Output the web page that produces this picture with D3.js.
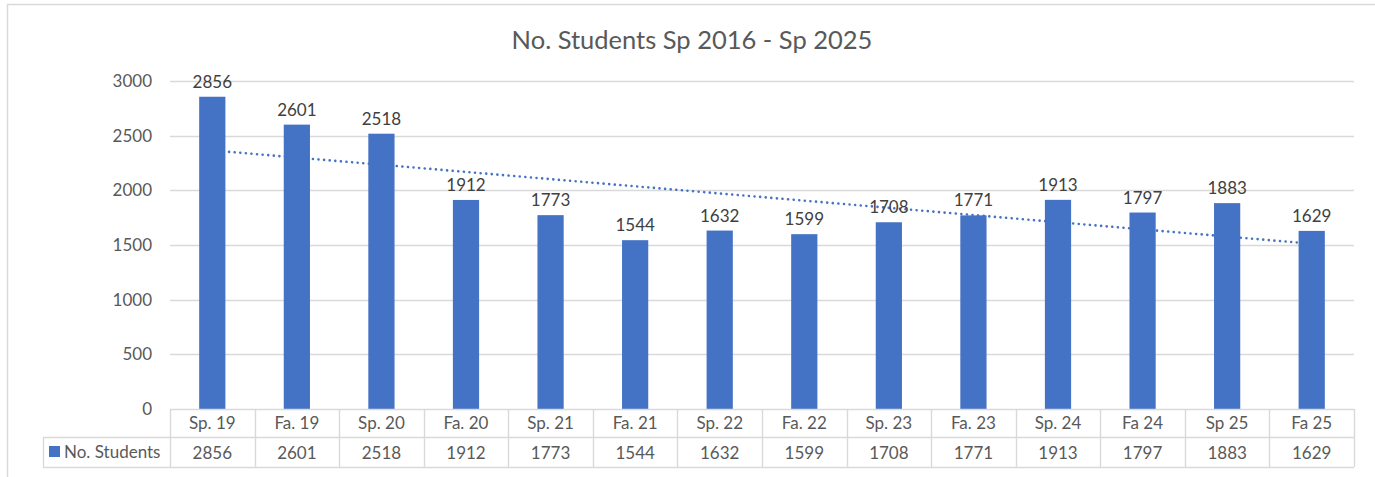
<!DOCTYPE html>
<html>
<head>
<meta charset="utf-8">
<script src="https://cdn.jsdelivr.net/npm/d3@7/dist/d3.min.js"></script>
<style>
  html, body { margin: 0; padding: 0; background: #fff; }
  svg { display: block; font-family: Lato, "Open Sans", sans-serif; }
</style>
</head>
<body>
<svg id="chart" width="1375" height="477"></svg>
<script>
// Enrolment per semester
const categories = ["Sp. 19", "Fa. 19", "Sp. 20", "Fa. 20", "Sp. 21", "Fa. 21", "Sp. 22",
                    "Fa. 22", "Sp. 23", "Fa. 23", "Sp. 24", "Fa 24", "Sp 25", "Fa 25"];
const students = [2856, 2601, 2518, 1912, 1773, 1544, 1632, 1599, 1708, 1771, 1913, 1797, 1883, 1629];
const yTicks = [0, 500, 1000, 1500, 2000, 2500, 3000];
const seriesName = "No. Students";
const title = "No. Students Sp 2016 - Sp 2025";

const W = 1375, H = 477;
const plot = { left: 170, right: 1354, top: 81, bottom: 409 };
const table = { left: 43, rowMid: 437, bottom: 467 };
const barColor = "#4472C4";
const gridColor = "#d9d9d9";
const textColor = "#595959";
const fs = 17;

const svg = d3.select("#chart");

// chart frame
svg.append("path")
  .attr("d", `M7.5,${H} V4.5 H${W}`)
  .attr("fill", "none").attr("stroke", gridColor).attr("stroke-width", 1.5);

const x = d3.scaleBand().domain(categories).range([plot.left, plot.right]).paddingInner(0.69).paddingOuter(0.345);
const y = d3.scaleLinear().domain([0, 3000]).range([plot.bottom, plot.top]);

// title
svg.append("text")
  .attr("x", 692).attr("y", 49)
  .attr("text-anchor", "middle").attr("fill", textColor)
  .attr("font-size", 25.5).text(title);

// gridlines
svg.append("g").selectAll("line").data(yTicks.filter(t => t > 0)).join("line")
  .attr("x1", plot.left).attr("x2", plot.right)
  .attr("y1", d => Math.round(y(d)) + 0.5).attr("y2", d => Math.round(y(d)) + 0.5)
  .attr("stroke", gridColor).attr("stroke-width", 1.3);

// y axis labels
const yAxis = d3.axisLeft(y).tickValues(yTicks).tickFormat(d3.format("d")).tickSize(0).tickPadding(18);
const yg = svg.append("g").attr("transform", `translate(${plot.left},0)`).call(yAxis);
yg.select(".domain").remove();
yg.selectAll("text").attr("font-size", fs).attr("fill", textColor).attr("font-family", "Lato, sans-serif");

// bars
svg.append("g").selectAll("rect").data(students).join("rect")
  .attr("x", (d, i) => x(categories[i]))
  .attr("width", x.bandwidth())
  .attr("y", d => y(d))
  .attr("height", d => y(0) - y(d))
  .attr("fill", barColor);

// linear trendline (least squares over category index)
const n = students.length;
const xs = d3.range(1, n + 1);
const mx = d3.mean(xs), my = d3.mean(students);
const slope = d3.sum(xs, (v, i) => (v - mx) * (students[i] - my)) / d3.sum(xs, v => (v - mx) ** 2);
const icpt = my - slope * mx;
const trend = [1, n].map(k => [x(categories[k - 1]) + x.bandwidth() / 2, y(icpt + slope * k)]);
svg.append("path")
  .attr("d", d3.line()(trend))
  .attr("fill", "none").attr("stroke", barColor).attr("stroke-width", 2.6)
  .attr("stroke-linecap", "round").attr("stroke-dasharray", "0.01 5.6");

// data labels
svg.append("g").selectAll("text").data(students).join("text")
  .attr("x", (d, i) => x(categories[i]) + x.bandwidth() / 2)
  .attr("y", d => y(d) - 9)
  .attr("text-anchor", "middle").attr("fill", "#404040")
  .attr("font-size", fs).text(d => d);

// data table
const step = x.step();
const colEdges = d3.range(n + 1).map(i => plot.left + i * step);
const tg = svg.append("g").attr("stroke", gridColor).attr("stroke-width", 1.4).attr("fill", "none");
tg.append("line").attr("x1", plot.left).attr("x2", plot.right).attr("y1", plot.bottom + 0.5).attr("y2", plot.bottom + 0.5);
tg.append("line").attr("x1", table.left).attr("x2", plot.right).attr("y1", table.rowMid + 0.5).attr("y2", table.rowMid + 0.5);
tg.append("line").attr("x1", table.left).attr("x2", plot.right).attr("y1", table.bottom + 0.5).attr("y2", table.bottom + 0.5);
tg.append("line").attr("x1", table.left + 0.5).attr("x2", table.left + 0.5).attr("y1", table.rowMid).attr("y2", table.bottom);
tg.selectAll("line.col").data(colEdges).join("line").attr("class", "col")
  .attr("x1", d => Math.round(d) + 0.5).attr("x2", d => Math.round(d) + 0.5)
  .attr("y1", plot.bottom).attr("y2", table.bottom);

svg.append("g").selectAll("text").data(categories).join("text")
  .attr("x", d => x(d) + x.bandwidth() / 2).attr("y", (plot.bottom + table.rowMid) / 2 + 6)
  .attr("text-anchor", "middle").attr("fill", textColor).attr("font-size", fs).text(d => d);

svg.append("g").selectAll("text").data(students).join("text")
  .attr("x", (d, i) => x(categories[i]) + x.bandwidth() / 2).attr("y", (table.rowMid + table.bottom) / 2 + 6.5)
  .attr("text-anchor", "middle").attr("fill", textColor).attr("font-size", fs).text(d => d);

// legend key + series name
svg.append("rect").attr("x", 49).attr("y", 446).attr("width", 11).attr("height", 11).attr("fill", barColor);
svg.append("text").attr("x", 64).attr("y", 458).attr("fill", textColor).attr("font-size", fs).text(seriesName);
</script>
</body>
</html>
